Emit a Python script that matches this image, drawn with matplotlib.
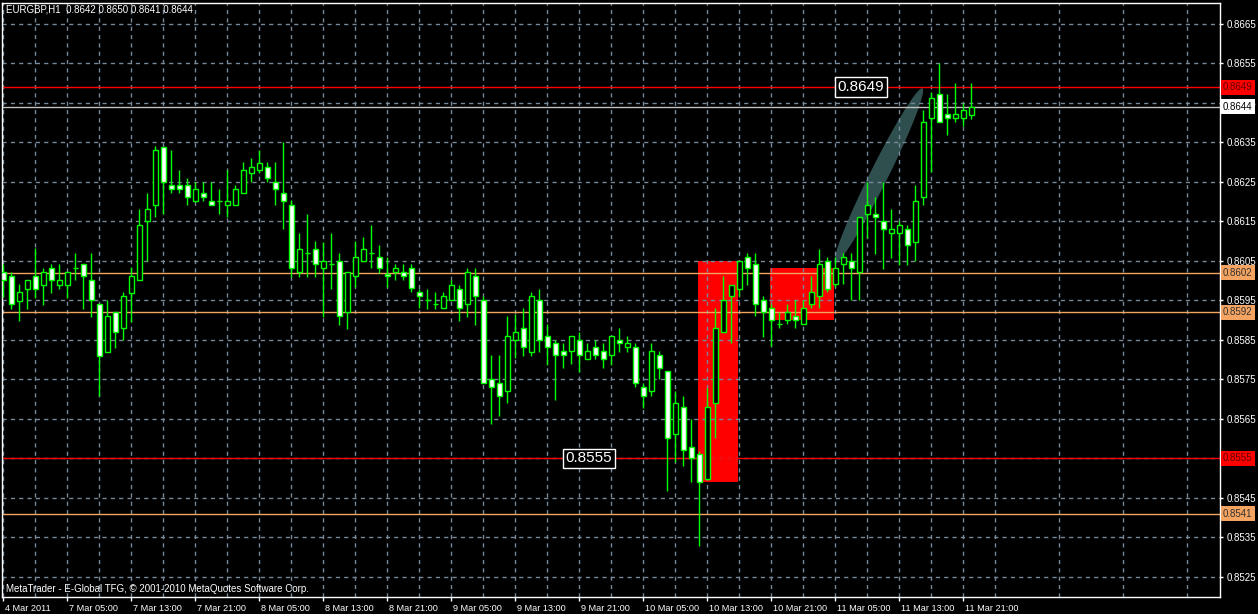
import matplotlib
matplotlib.use("Agg")
import numpy as np
import matplotlib.pyplot as plt
import matplotlib.transforms as mtransforms
from matplotlib.patches import Rectangle, Polygon
from matplotlib.ticker import FixedLocator

# EURGBP H1 bars, 4 Mar 2011 21:00 .. 11 Mar 2011 22:00
symbol = "EURGBP,H1"
opens = [0.86021, 0.86011, 0.85949, 0.85979, 0.86011, 0.85990, 0.86031, 0.85990, 0.85990, 0.86031,
         0.86041, 0.86001, 0.85940, 0.85820, 0.85920, 0.85879, 0.85969, 0.86001, 0.86150, 0.86191,
         0.86339, 0.86241, 0.86241, 0.86241, 0.86201, 0.86221, 0.86201, 0.86201, 0.86191, 0.86191,
         0.86221, 0.86272, 0.86279, 0.86289, 0.86251, 0.86221, 0.86191, 0.86021, 0.86069, 0.86079,
         0.86031, 0.86041, 0.86051, 0.85920, 0.86011, 0.86051, 0.86069, 0.86059, 0.86018, 0.86021,
         0.86021, 0.86031, 0.85970, 0.85950, 0.85940, 0.85930, 0.85950, 0.85979, 0.85940, 0.86011,
         0.85950, 0.85750, 0.85740, 0.85720, 0.85849, 0.85879, 0.85820, 0.85950, 0.85859, 0.85841,
         0.85821, 0.85821, 0.85849, 0.85801, 0.85831, 0.85821, 0.85811, 0.85849, 0.85831, 0.85831,
         0.85730, 0.85720, 0.85811, 0.85770, 0.85611, 0.85679, 0.85580, 0.85560, 0.85499, 0.85689,
         0.85869, 0.85960, 0.85979, 0.86059, 0.86041, 0.85950, 0.85930, 0.85889, 0.85900, 0.85910,
         0.85889, 0.85940, 0.85960, 0.86051, 0.85991, 0.86041, 0.86051, 0.86021, 0.86170, 0.86170,
         0.86150, 0.86120, 0.86120, 0.86130, 0.86099, 0.86211, 0.86411, 0.86472, 0.86421, 0.86411,
         0.86411, 0.86420]
highs = [0.86042, 0.86021, 0.85991, 0.86001, 0.86082, 0.86031, 0.86041, 0.86041, 0.86021, 0.86069,
         0.86041, 0.86069, 0.85940, 0.85950, 0.85920, 0.85970, 0.86035, 0.86181, 0.86221, 0.86341,
         0.86339, 0.86331, 0.86280, 0.86261, 0.86251, 0.86251, 0.86251, 0.86231, 0.86280, 0.86241,
         0.86300, 0.86310, 0.86331, 0.86300, 0.86300, 0.86351, 0.86204, 0.86120, 0.86170, 0.86100,
         0.86097, 0.86120, 0.86069, 0.86021, 0.86100, 0.86110, 0.86140, 0.86089, 0.86059, 0.86041,
         0.86041, 0.86041, 0.85979, 0.85979, 0.85970, 0.85970, 0.86001, 0.85990, 0.86031, 0.86031,
         0.85960, 0.85812, 0.85811, 0.85910, 0.85915, 0.85930, 0.85970, 0.85979, 0.85889, 0.85849,
         0.85841, 0.85859, 0.85869, 0.85841, 0.85849, 0.85841, 0.85859, 0.85879, 0.85859, 0.85841,
         0.85740, 0.85841, 0.85821, 0.85770, 0.85720, 0.85709, 0.85649, 0.85569, 0.85728, 0.85930,
         0.86012, 0.85990, 0.86051, 0.86069, 0.86069, 0.85960, 0.85940, 0.85920, 0.85940, 0.85950,
         0.85950, 0.86011, 0.86079, 0.86059, 0.86059, 0.86069, 0.86069, 0.86160, 0.86251, 0.86211,
         0.86251, 0.86181, 0.86150, 0.86140, 0.86241, 0.86431, 0.86477, 0.86550, 0.86472, 0.86500,
         0.86451, 0.86500]
lows = [0.85959, 0.85929, 0.85898, 0.85929, 0.85955, 0.85939, 0.85969, 0.85979, 0.85955, 0.86001,
        0.85929, 0.85909, 0.85709, 0.85820, 0.85830, 0.85849, 0.85896, 0.86001, 0.86051, 0.86160,
        0.86168, 0.86221, 0.86221, 0.86191, 0.86199, 0.86201, 0.86191, 0.86170, 0.86160, 0.86191,
        0.86221, 0.86251, 0.86272, 0.86251, 0.86191, 0.86130, 0.86010, 0.86010, 0.86010, 0.86010,
        0.85909, 0.85980, 0.85888, 0.85878, 0.85985, 0.86051, 0.86031, 0.86020, 0.85985, 0.86001,
        0.86001, 0.85970, 0.85930, 0.85929, 0.85929, 0.85930, 0.85950, 0.85899, 0.85909, 0.85888,
        0.85740, 0.85638, 0.85658, 0.85689, 0.85803, 0.85810, 0.85810, 0.85820, 0.85787, 0.85698,
        0.85780, 0.85790, 0.85769, 0.85801, 0.85801, 0.85780, 0.85787, 0.85820, 0.85820, 0.85730,
        0.85678, 0.85709, 0.85750, 0.85468, 0.85540, 0.85530, 0.85489, 0.85329, 0.85499, 0.85601,
        0.85869, 0.85841, 0.85960, 0.85990, 0.85910, 0.85858, 0.85834, 0.85879, 0.85889, 0.85879,
        0.85889, 0.85930, 0.85930, 0.85970, 0.85985, 0.85991, 0.85950, 0.85950, 0.86107, 0.86068,
        0.86030, 0.86057, 0.86040, 0.86040, 0.86051, 0.86191, 0.86274, 0.86401, 0.86370, 0.86401,
        0.86391, 0.86410]
closes = [0.86001, 0.85940, 0.85970, 0.86001, 0.85979, 0.86021, 0.86001, 0.86001, 0.86021, 0.86031,
          0.86011, 0.85950, 0.85810, 0.85910, 0.85869, 0.85960, 0.86011, 0.86140, 0.86181, 0.86330,
          0.86251, 0.86231, 0.86231, 0.86211, 0.86231, 0.86211, 0.86191, 0.86201, 0.86201, 0.86231,
          0.86279, 0.86289, 0.86299, 0.86261, 0.86231, 0.86201, 0.86031, 0.86079, 0.86069, 0.86041,
          0.86051, 0.86041, 0.85910, 0.86021, 0.86059, 0.86079, 0.86069, 0.86031, 0.86011, 0.86031,
          0.86011, 0.85981, 0.85960, 0.85950, 0.85940, 0.85960, 0.85990, 0.85930, 0.86021, 0.85960,
          0.85740, 0.85730, 0.85709, 0.85859, 0.85869, 0.85831, 0.85960, 0.85849, 0.85831, 0.85811,
          0.85811, 0.85859, 0.85811, 0.85821, 0.85811, 0.85801, 0.85859, 0.85841, 0.85841, 0.85740,
          0.85709, 0.85821, 0.85780, 0.85601, 0.85689, 0.85570, 0.85550, 0.85489, 0.85679, 0.85879,
          0.85950, 0.85990, 0.86051, 0.86031, 0.85940, 0.85920, 0.85900, 0.85889, 0.85920, 0.85900,
          0.85930, 0.85970, 0.86041, 0.85979, 0.86031, 0.86059, 0.86031, 0.86160, 0.86191, 0.86160,
          0.86130, 0.86130, 0.86140, 0.86089, 0.86201, 0.86401, 0.86462, 0.86401, 0.86411, 0.86421,
          0.86431, 0.86440]

time_labels = ["4 Mar 2011", "7 Mar 05:00", "7 Mar 13:00", "7 Mar 21:00", "8 Mar 05:00",
               "8 Mar 13:00", "8 Mar 21:00", "9 Mar 05:00", "9 Mar 13:00", "9 Mar 21:00",
               "10 Mar 05:00", "10 Mar 13:00", "10 Mar 21:00", "11 Mar 05:00", "11 Mar 13:00",
               "11 Mar 21:00"]
price_ticks = [0.8525, 0.8535, 0.8545, 0.8555, 0.8565, 0.8575, 0.8585, 0.8595,
               0.8605, 0.8615, 0.8625, 0.8635, 0.8645, 0.8655, 0.8665]

# horizontal lines drawn on the chart
hlines = [0.8649, 0.8644, 0.8602, 0.8592, 0.8555, 0.8541]
hline_colors = ["red", "#c0c0c0", "#f4a460", "#f4a460", "red", "#f4a460"]
tag_colors = ["red", "white", "#f4a460", "#f4a460", "red", "#f4a460"]
tag_text = ["#600000", "black", "#303030", "#303030", "#600000", "#303030"]

# rectangles: (bar from, bar to, price low, price high)
rects = [(86.9, 91.9, 0.85491, 0.86051), (95.9, 103.9, 0.85900, 0.86032)]
# ellipse end points (bar, price)
ell_x = [104.0, 114.9]
ell_y = [0.86045, 0.86487]
# text labels (bar, price, text)
notes = [(104.3, 0.8649, "0.8649"), (70.3, 0.8555, "0.8555")]

W, H = 1258, 614
fig = plt.figure(figsize=(W / 100, H / 100), dpi=100, facecolor="black")
ax = fig.add_axes([2 / W, 17 / H, 1218 / W, 594 / H])
ax.set_facecolor("black")
ax.set_xlim(-0.16, 152.1)
ax.set_ylim(0.85199, 0.86703)

font = "Liberation Sans"
green = "#00ff00"
grid_c = "#778899"

o = np.array(opens)
c = np.array(closes)
x = np.arange(len(o))
bull = c > o

# objects in background
for x0, x1, p0, p1 in rects:
    ax.add_patch(Rectangle((x0, p0), x1 - x0, p1 - p0, fc="red", ec="none", zorder=1))

p0 = ax.transData.transform((ell_x[0], ell_y[0]))
p1 = ax.transData.transform((ell_x[1], ell_y[1]))
ctr = (p0 + p1) / 2
d = p1 - p0
half = np.hypot(d[0], d[1]) / 2
ang = np.arctan2(d[1], d[0])
t = np.linspace(0, 2 * np.pi, 120)
ex, ey = half * np.cos(t), 9 * np.sin(t)
pts = np.column_stack([ctr[0] + ex * np.cos(ang) - ey * np.sin(ang),
                       ctr[1] + ex * np.sin(ang) + ey * np.cos(ang)])
ax.add_patch(Polygon(ax.transData.inverted().transform(pts), closed=True,
                     fc="#2f4f4f", ec="none", zorder=1))

# grid
ax.xaxis.set_major_locator(FixedLocator(np.arange(0, 121, 8)))
ax.xaxis.set_minor_locator(FixedLocator(np.arange(4, 153, 8)))
ax.set_xticklabels(time_labels)
ax.set_yticks(price_ticks)
# 0.8555 is hidden under its price tag in the terminal
ax.set_yticklabels(["" if abs(p - 0.8555) < 1e-6 else f"{p:.4f}" for p in price_ticks])
ax.grid(True, which="both", color=grid_c, linestyle=(0, (3, 3)), linewidth=1)
ax.set_axisbelow("line")

# price lines
for p, col in zip(hlines, hline_colors):
    ax.axhline(p, color=col, lw=1, zorder=2)

# candles
ax.vlines(x, lows, highs, color=green, lw=1, zorder=3)
ax.bar(x, np.abs(c - o), bottom=np.minimum(o, c), width=0.62,
       color=np.where(bull, "black", "white"), edgecolor=green, linewidth=1, zorder=4)

for bx, p, s in notes:
    ax.text(bx, p, s, ha="left", va="center", color="white", fontsize=11, family=font,
            bbox=dict(boxstyle="square,pad=0.18", fc="black", ec="white", lw=1), zorder=6)

# axes styling
for sp in ax.spines.values():
    sp.set_color("white")
    sp.set_linewidth(1)
ax.yaxis.tick_right()
ax.tick_params(axis="y", which="major", colors="white", length=2.5, width=1, pad=2,
               labelsize=7, labelfontfamily=font)
ax.tick_params(axis="x", which="major", colors="white", length=3, width=1, pad=2,
               labelsize=6.6, labelfontfamily=font)
ax.tick_params(axis="x", which="minor", length=0)
shift = mtransforms.ScaledTranslation(1.5 / 72, 0, fig.dpi_scale_trans)
for lab in ax.get_xticklabels():
    lab.set_horizontalalignment("left")
    lab.set_transform(lab.get_transform() + shift)

# price tags on the right scale
tag_tr = mtransforms.offset_copy(ax.get_yaxis_transform(), fig=fig, x=3, y=0, units="dots")
for p, fc, tc in zip(hlines, tag_colors, tag_text):
    ax.text(1.0, p, f"{p:.4f}", transform=tag_tr, ha="left", va="center", fontsize=7,
            family=font, color=tc, clip_on=False, zorder=10,
            bbox=dict(boxstyle="square,pad=0.25", fc=fc, ec="none"))

fig.text(6 / W, 1 - 10 / H, f"{symbol}  0.8642 0.8650 0.8641 0.8644", color="white",
         fontsize=7, family=font, va="center", ha="left")
fig.text(6 / W, 1 - 589 / H, "MetaTrader - E-Global TFG, \u00a9 2001-2010 MetaQuotes Software Corp.",
         color="white", fontsize=7, family=font, va="center", ha="left")

fig.savefig("out.png", dpi=100, facecolor="black")
